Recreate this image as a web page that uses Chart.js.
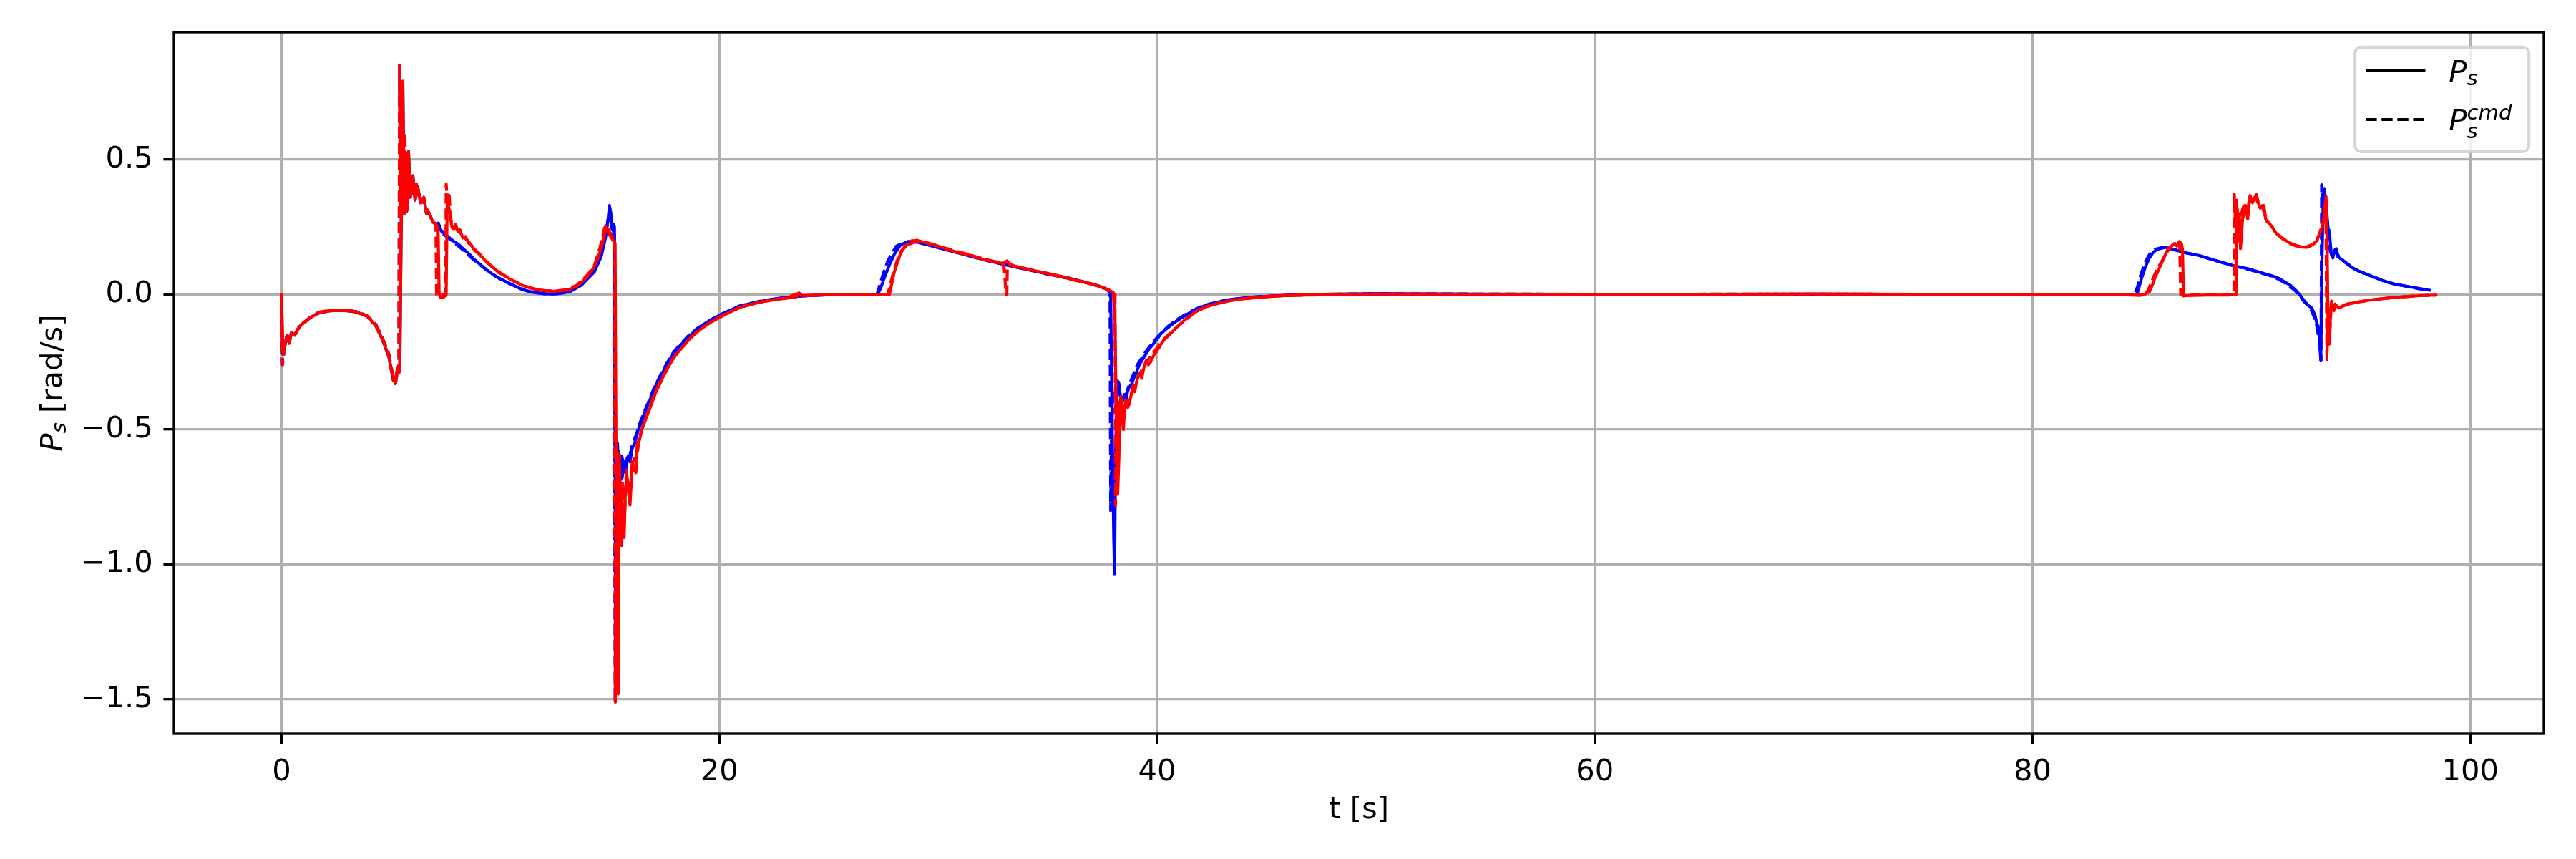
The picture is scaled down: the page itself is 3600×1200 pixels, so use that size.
<!DOCTYPE html>
<html>
<head>
<meta charset="utf-8">
<script src="https://cdn.jsdelivr.net/npm/chart.js@4.4.1/dist/chart.umd.min.js"></script>
<style>
html,body{margin:0;padding:0;background:#fff;}
canvas{display:block;}
</style>
</head>
<body>
<canvas id="c" width="3600" height="1200"></canvas>
<script>
// ---------------- DATA ([t, value] pairs) ----------------
const xTicks = [0, 20, 40, 60, 80, 100];
const xTickLabels = ['0', '20', '40', '60', '80', '100'];
const yTicks = [-1.5, -1.0, -0.5, 0.0, 0.5];
const yTickLabels = ['\u22121.5', '\u22121.0', '\u22120.5', '0.0', '0.5'];
const legendLabels = ['P_s', 'P_s^cmd'];

const blueMeasured = [[0,0],[0.05,-0.22],[0.15,-0.19],[0.25,-0.15],[0.35,-0.18],[0.45,-0.14],[0.6,-0.15],[0.8,-0.12],[1.0,-0.105],[1.3,-0.085],[1.7,-0.068],[2.2,-0.06],[2.8,-0.058],[3.4,-0.064],[3.9,-0.08],[4.3,-0.115],[4.6,-0.165],[4.9,-0.23],[5.1,-0.315],[5.2,-0.32],[5.3,-0.27],[5.4,-0.28],[5.47,0.28],[5.54,0.79],[5.6,0.3],[5.66,0.52],[5.72,0.31],[5.8,0.53],[5.88,0.36],[6.0,0.44],[6.1,0.35],[6.22,0.4],[6.35,0.34],[6.5,0.36],[6.62,0.3],[6.75,0.3],[6.9,0.27],[7.05,0.26],[7.16,0.265],[7.3,0.235],[7.45,0.225],[7.6,0.215],[7.85,0.198],[8.1,0.185],[8.3,0.17],[8.6,0.148],[8.85,0.127],[9.1,0.11],[9.4,0.09],[9.7,0.072],[10.0,0.058],[10.5,0.038],[11.0,0.018],[11.5,0.008],[12.0,0.003],[12.4,0.002],[12.8,0.005],[13.2,0.012],[13.7,0.035],[14.0,0.06],[14.3,0.085],[14.6,0.14],[14.8,0.21],[14.92,0.28],[14.98,0.33],[15.05,0.3],[15.1,0.24],[15.17,0.26],[15.21,0.25],[15.26,-1.2],[15.3,-1.42],[15.35,-0.55],[15.42,-0.72],[15.48,-0.6],[15.56,-0.68],[15.64,-0.62],[15.72,-0.66],[15.82,-0.6],[15.92,-0.62],[16.02,-0.57],[16.14,-0.55],[16.3,-0.5],[16.46,-0.47],[16.62,-0.43],[16.79,-0.4],[16.95,-0.365],[17.11,-0.335],[17.4,-0.29],[17.66,-0.25],[17.9,-0.22],[18.2,-0.19],[18.5,-0.165],[18.75,-0.145],[19.0,-0.127],[19.29,-0.11],[19.6,-0.094],[20.0,-0.077],[20.5,-0.058],[20.92,-0.043],[21.5,-0.032],[22.01,-0.023],[22.8,-0.013],[23.64,-0.006],[24.5,-0.002],[25.28,0],[27.24,0],[27.4,0.03],[27.6,0.075],[27.8,0.115],[28.0,0.15],[28.28,0.184],[28.64,0.197],[29.0,0.195],[29.5,0.185],[30.0,0.174],[30.75,0.158],[31.5,0.142],[32.2,0.127],[32.95,0.113],[33.5,0.102],[34.3,0.089],[35.14,0.074],[36.0,0.06],[36.7,0.046],[37.33,0.032],[37.7,0.02],[37.88,0.005],[37.95,-0.5],[38.02,-0.9],[38.06,-1.035],[38.1,-0.6],[38.18,-0.33],[38.25,-0.325],[38.33,-0.38],[38.41,-0.396],[38.5,-0.37],[38.57,-0.4],[38.65,-0.36],[38.73,-0.343],[38.85,-0.33],[38.95,-0.307],[39.05,-0.29],[39.17,-0.263],[39.3,-0.245],[39.5,-0.219],[39.65,-0.2],[39.82,-0.184],[40.0,-0.165],[40.15,-0.148],[40.35,-0.132],[40.58,-0.117],[40.85,-0.1],[41.12,-0.086],[41.4,-0.072],[41.67,-0.06],[42.0,-0.047],[42.4,-0.035],[43.0,-0.024],[43.5,-0.017],[44.6,-0.009],[45.5,-0.004],[46.8,0],[48,0.002],[50,0.003],[55,0.002],[60,0.001],[65,0.001],[70,0.002],[75,0.001],[80,0],[84.77,0],[85.0,0.065],[85.17,0.105],[85.34,0.136],[85.5,0.155],[85.67,0.167],[86.07,0.175],[86.46,0.167],[86.8,0.16],[87.03,0.154],[87.3,0.15],[87.59,0.145],[88.15,0.131],[88.71,0.118],[89.27,0.105],[89.83,0.096],[90.4,0.082],[90.96,0.069],[91.25,0.06],[91.52,0.047],[91.8,0.033],[92.08,0.012],[92.25,-0.005],[92.42,-0.024],[92.6,-0.04],[92.76,-0.05],[92.9,-0.075],[92.98,-0.104],[93.05,-0.12],[93.1,-0.148],[93.17,-0.245],[93.22,0.1],[93.28,0.35],[93.32,0.393],[93.38,0.36],[93.43,0.32],[93.5,0.25],[93.56,0.234],[93.65,0.15],[93.72,0.136],[93.8,0.165],[93.88,0.17],[93.95,0.14],[94.11,0.131],[94.33,0.118],[94.6,0.1],[94.9,0.087],[95.2,0.078],[95.46,0.069],[95.75,0.06],[96.02,0.051],[96.3,0.044],[96.59,0.038],[97.15,0.03],[97.71,0.022],[98.16,0.016]];

const blueCommand = [[0,0],[0.04,-0.26],[0.12,-0.2],[0.22,-0.16],[0.32,-0.17],[0.42,-0.145],[0.6,-0.15],[0.8,-0.12],[1.0,-0.105],[1.3,-0.085],[1.7,-0.066],[2.2,-0.058],[2.8,-0.057],[3.4,-0.063],[3.9,-0.078],[4.3,-0.11],[4.6,-0.16],[4.9,-0.22],[5.08,-0.3],[5.2,-0.33],[5.3,-0.28],[5.36,-0.29],[5.39,0.85],[5.43,0.3],[5.5,0.75],[5.56,0.35],[5.63,0.6],[5.7,0.3],[5.78,0.48],[5.86,0.38],[5.95,0.43],[6.05,0.37],[6.15,0.41],[6.3,0.36],[6.45,0.35],[6.6,0.32],[6.75,0.3],[6.9,0.27],[7.05,0.26],[7.2,0.24],[7.45,0.22],[7.7,0.205],[8.0,0.185],[8.3,0.165],[8.6,0.142],[8.9,0.12],[9.2,0.102],[9.5,0.083],[9.8,0.067],[10.2,0.048],[10.7,0.03],[11.2,0.014],[11.7,0.006],[12.2,0.002],[12.7,0.004],[13.2,0.013],[13.7,0.038],[14.0,0.065],[14.3,0.095],[14.6,0.155],[14.8,0.22],[14.9,0.27],[14.97,0.3],[15.05,0.27],[15.12,0.25],[15.2,0.22],[15.24,-1.51],[15.28,-0.6],[15.33,-0.8],[15.4,-0.58],[15.47,-0.7],[15.55,-0.6],[15.65,-0.64],[15.78,-0.6],[15.9,-0.6],[16.05,-0.55],[16.2,-0.52],[16.4,-0.47],[16.6,-0.43],[16.8,-0.39],[17.0,-0.35],[17.3,-0.3],[17.6,-0.255],[17.9,-0.215],[18.2,-0.185],[18.6,-0.152],[19.0,-0.125],[19.5,-0.1],[20.0,-0.076],[20.9,-0.043],[22.0,-0.022],[23.6,-0.006],[25.3,0],[27.2,0],[27.35,0.04],[27.5,0.08],[27.7,0.125],[27.9,0.155],[28.1,0.18],[28.5,0.195],[29.0,0.194],[29.5,0.185],[30.0,0.175],[31.0,0.153],[32.0,0.131],[33.0,0.112],[34.0,0.094],[35.0,0.076],[36.0,0.06],[36.7,0.046],[37.33,0.032],[37.7,0.02],[37.85,0.008],[37.88,-0.8],[37.92,-0.5],[38.0,-0.38],[38.1,-0.34],[38.2,-0.32],[38.3,-0.37],[38.4,-0.39],[38.55,-0.38],[38.7,-0.34],[38.9,-0.3],[39.1,-0.26],[39.3,-0.235],[39.5,-0.21],[39.8,-0.178],[40.1,-0.15],[40.5,-0.118],[41.0,-0.088],[41.5,-0.064],[42.0,-0.045],[42.5,-0.033],[43.2,-0.02],[44.5,-0.008],[46.8,0],[50,0.003],[60,0.001],[70,0.002],[80,0],[84.65,0],[84.8,0.03],[84.95,0.075],[85.15,0.12],[85.35,0.15],[85.6,0.168],[86.0,0.176],[86.4,0.168],[87.0,0.155],[87.6,0.145],[88.2,0.13],[88.7,0.118],[89.3,0.104],[89.8,0.095],[90.4,0.081],[91.0,0.067],[91.5,0.045],[92.0,0.015],[92.4,-0.025],[92.7,-0.05],[92.95,-0.1],[93.1,-0.17],[93.18,-0.245],[93.21,0.407],[93.26,0.33],[93.32,0.38],[93.4,0.3],[93.5,0.22],[93.6,0.16],[93.72,0.14],[93.85,0.165],[94.0,0.14],[94.3,0.118],[94.9,0.087],[95.5,0.068],[96.0,0.052],[96.6,0.038],[97.2,0.029],[97.7,0.021],[98.16,0.016]];

const redMeasured = [[0,0],[0.05,-0.21],[0.15,-0.19],[0.25,-0.15],[0.35,-0.18],[0.45,-0.14],[0.6,-0.15],[0.8,-0.12],[1.0,-0.105],[1.3,-0.085],[1.7,-0.068],[2.2,-0.06],[2.8,-0.058],[3.4,-0.064],[3.9,-0.08],[4.3,-0.115],[4.6,-0.165],[4.9,-0.23],[5.1,-0.318],[5.2,-0.32],[5.3,-0.27],[5.4,-0.28],[5.47,0.28],[5.54,0.79],[5.6,0.3],[5.66,0.52],[5.72,0.31],[5.8,0.53],[5.88,0.36],[6.0,0.44],[6.1,0.35],[6.22,0.4],[6.35,0.34],[6.5,0.36],[6.62,0.3],[6.75,0.3],[6.9,0.27],[7.05,0.26],[7.15,0.25],[7.2,0],[7.25,-0.01],[7.4,-0.01],[7.52,0],[7.57,0.357],[7.62,0.33],[7.7,0.3],[7.78,0.25],[7.85,0.242],[7.95,0.26],[8.05,0.235],[8.15,0.24],[8.28,0.21],[8.4,0.215],[8.55,0.19],[8.7,0.18],[8.83,0.162],[9.0,0.155],[9.37,0.12],[9.6,0.105],[9.92,0.082],[10.2,0.07],[10.46,0.056],[11.0,0.034],[11.55,0.02],[12.0,0.014],[12.37,0.012],[12.8,0.014],[13.19,0.02],[13.5,0.032],[13.73,0.047],[14.0,0.07],[14.27,0.1],[14.45,0.135],[14.6,0.171],[14.72,0.21],[14.82,0.246],[14.9,0.235],[15.0,0.22],[15.15,0.2],[15.24,0.19],[15.3,-0.9],[15.38,-1.48],[15.43,-0.59],[15.49,-0.8],[15.54,-0.93],[15.6,-0.8],[15.65,-0.9],[15.7,-0.75],[15.76,-0.67],[15.84,-0.72],[15.92,-0.78],[16.03,-0.62],[16.12,-0.65],[16.19,-0.66],[16.25,-0.55],[16.35,-0.54],[16.46,-0.5],[16.6,-0.47],[16.79,-0.43],[16.95,-0.395],[17.11,-0.36],[17.4,-0.31],[17.66,-0.27],[17.9,-0.235],[18.2,-0.205],[18.5,-0.178],[18.75,-0.155],[19.0,-0.137],[19.29,-0.12],[19.6,-0.103],[20.0,-0.085],[20.5,-0.064],[20.92,-0.048],[21.5,-0.035],[22.01,-0.026],[22.8,-0.016],[23.5,-0.01],[23.64,0.006],[23.8,-0.004],[24.5,-0.002],[25.3,0],[27.77,0],[27.85,0.03],[27.99,0.082],[28.1,0.11],[28.28,0.153],[28.4,0.168],[28.57,0.184],[28.8,0.19],[29.0,0.202],[29.3,0.195],[29.6,0.19],[30.0,0.18],[30.4,0.168],[30.75,0.16],[31.1,0.152],[31.5,0.145],[32.0,0.132],[32.5,0.123],[32.95,0.115],[33.15,0.125],[33.3,0.112],[33.5,0.105],[34.0,0.096],[34.5,0.087],[35.14,0.076],[35.8,0.064],[36.5,0.05],[37.0,0.04],[37.33,0.031],[37.6,0.024],[37.84,0.015],[38.0,0.008],[38.08,-0.1],[38.14,-0.5],[38.2,-0.74],[38.26,-0.6],[38.3,-0.4],[38.35,-0.378],[38.4,-0.45],[38.46,-0.5],[38.52,-0.42],[38.57,-0.39],[38.65,-0.42],[38.73,-0.405],[38.82,-0.37],[38.9,-0.35],[38.98,-0.36],[39.06,-0.325],[39.14,-0.3],[39.22,-0.29],[39.3,-0.31],[39.4,-0.27],[39.5,-0.245],[39.6,-0.26],[39.7,-0.25],[39.85,-0.225],[39.98,-0.21],[40.1,-0.195],[40.25,-0.175],[40.4,-0.162],[40.58,-0.148],[40.85,-0.125],[41.12,-0.104],[41.4,-0.085],[41.67,-0.068],[41.95,-0.056],[42.21,-0.046],[42.76,-0.033],[43.4,-0.022],[44.0,-0.015],[45.0,-0.007],[46.0,-0.003],[48.0,0.001],[50,0.002],[55,0.001],[60,0],[65,0.001],[70,0.002],[75,0.001],[80,0],[84,0],[84.9,-0.003],[85.1,0],[85.34,0.01],[85.5,0.04],[85.6,0.064],[85.75,0.09],[85.9,0.117],[86.05,0.145],[86.2,0.171],[86.35,0.18],[86.5,0.19],[86.6,0.18],[86.7,0.196],[86.8,0.19],[86.85,0.17],[86.9,-0.005],[87.0,-0.004],[88.0,-0.002],[89.0,-0.002],[89.3,0],[89.33,0.35],[89.38,0.2],[89.45,0.3],[89.5,0.17],[89.6,0.28],[89.72,0.33],[89.83,0.28],[89.94,0.367],[90.05,0.34],[90.15,0.36],[90.23,0.37],[90.32,0.34],[90.4,0.32],[90.5,0.33],[90.57,0.33],[90.65,0.28],[90.73,0.269],[90.85,0.26],[90.96,0.25],[91.1,0.23],[91.3,0.215],[91.45,0.205],[91.63,0.198],[91.85,0.185],[92.08,0.18],[92.3,0.176],[92.53,0.175],[92.7,0.18],[92.87,0.19],[93.0,0.2],[93.1,0.225],[93.2,0.24],[93.27,0.26],[93.34,0.3],[93.41,0.363],[93.46,0.2],[93.5,-0.1],[93.55,-0.184],[93.6,-0.1],[93.66,-0.024],[93.72,-0.05],[93.77,-0.06],[93.83,-0.035],[93.88,-0.04],[94.0,-0.05],[94.11,-0.045],[94.33,-0.036],[94.6,-0.032],[94.9,-0.027],[95.46,-0.02],[96.02,-0.015],[96.59,-0.01],[97.15,-0.007],[97.71,-0.004],[98.44,-0.002]];

const redCommand = [[0,0],[0.04,-0.26],[0.12,-0.2],[0.22,-0.16],[0.32,-0.17],[0.42,-0.145],[0.6,-0.15],[0.8,-0.12],[1.0,-0.105],[1.3,-0.085],[1.7,-0.066],[2.2,-0.058],[2.8,-0.057],[3.4,-0.063],[3.9,-0.078],[4.3,-0.11],[4.6,-0.16],[4.9,-0.22],[5.08,-0.3],[5.2,-0.33],[5.3,-0.28],[5.36,-0.29],[5.39,0.85],[5.43,0.3],[5.5,0.75],[5.56,0.35],[5.63,0.6],[5.7,0.3],[5.78,0.48],[5.86,0.38],[5.95,0.43],[6.05,0.37],[6.15,0.41],[6.3,0.36],[6.45,0.35],[6.6,0.32],[6.75,0.3],[6.9,0.27],[7.05,0.26],[7.08,0],[7.5,0],[7.52,0.41],[7.58,0.35],[7.65,0.38],[7.72,0.28],[7.8,0.26],[7.9,0.25],[8.0,0.24],[8.15,0.23],[8.3,0.215],[8.5,0.2],[8.8,0.17],[9.2,0.135],[9.6,0.105],[10.0,0.08],[10.5,0.055],[11.0,0.035],[11.5,0.022],[12.0,0.015],[12.5,0.013],[13.0,0.018],[13.5,0.035],[14.0,0.075],[14.3,0.11],[14.55,0.175],[14.75,0.245],[14.85,0.26],[14.95,0.235],[15.1,0.22],[15.2,0.2],[15.25,-1.51],[15.3,-0.7],[15.36,-1.4],[15.42,-0.65],[15.5,-0.85],[15.58,-0.7],[15.66,-0.85],[15.75,-0.65],[15.85,-0.72],[15.95,-0.7],[16.05,-0.6],[16.2,-0.62],[16.35,-0.53],[16.5,-0.49],[16.8,-0.42],[17.1,-0.355],[17.4,-0.305],[17.7,-0.262],[18.0,-0.225],[18.4,-0.186],[18.8,-0.152],[19.3,-0.118],[19.8,-0.092],[20.3,-0.07],[21.0,-0.046],[22.0,-0.026],[23.0,-0.013],[23.6,0.004],[23.8,-0.004],[25.0,0],[27.7,0],[27.8,0.035],[27.95,0.08],[28.1,0.12],[28.3,0.16],[28.55,0.185],[28.8,0.2],[29.1,0.198],[29.6,0.188],[30.2,0.175],[31.0,0.157],[32.0,0.134],[33.0,0.114],[33.1,0],[33.14,0],[33.16,0.11],[33.5,0.105],[34.3,0.09],[35.1,0.076],[36.0,0.058],[36.8,0.043],[37.5,0.027],[37.9,0.013],[38.08,0],[38.1,-0.78],[38.14,-0.5],[38.2,-0.45],[38.3,-0.4],[38.4,-0.47],[38.5,-0.42],[38.6,-0.4],[38.75,-0.39],[38.9,-0.34],[39.1,-0.31],[39.3,-0.28],[39.5,-0.25],[39.8,-0.22],[40.1,-0.185],[40.4,-0.158],[40.8,-0.128],[41.2,-0.1],[41.7,-0.068],[42.2,-0.046],[42.8,-0.032],[43.5,-0.02],[44.5,-0.011],[46,-0.003],[50,0.002],[60,0],[70,0.002],[80,0],[85.15,0],[85.3,0.02],[85.5,0.06],[85.7,0.095],[85.95,0.13],[86.2,0.165],[86.45,0.188],[86.72,0.196],[86.77,0],[87.0,0],[89.2,0],[89.22,0.372],[89.28,0.25],[89.35,0.32],[89.45,0.2],[89.55,0.3],[89.68,0.34],[89.8,0.3],[89.92,0.36],[90.05,0.345],[90.2,0.36],[90.35,0.33],[90.5,0.325],[90.7,0.275],[90.9,0.255],[91.2,0.222],[91.5,0.205],[91.8,0.19],[92.1,0.18],[92.5,0.176],[92.85,0.188],[93.1,0.22],[93.3,0.28],[93.4,0.35],[93.45,-0.241],[93.5,-0.1],[93.58,-0.15],[93.65,-0.03],[93.75,-0.055],[93.9,-0.038],[94.1,-0.045],[94.4,-0.035],[94.9,-0.027],[95.5,-0.02],[96.0,-0.015],[96.6,-0.01],[97.7,-0.004],[98.44,-0.002]];

// ---------------- STYLE ----------------
const PT = 300 / 72;
const FONT = "'DejaVu Sans', 'Liberation Sans', sans-serif";
const FS = 10 * PT;
const LW = 1.0 * PT;
const DASH = [3.7 * LW, 1.6 * LW];

function toXY(pairs) { return pairs.map(p => ({x: p[0], y: p[1]})); }

function lineDs(pairs, color, dashed) {
  return {
    data: toXY(pairs),
    borderColor: color,
    backgroundColor: color,
    borderWidth: LW,
    borderDash: dashed ? DASH : [],
    borderCapStyle: dashed ? 'butt' : 'round',
    borderJoinStyle: 'round',
    pointRadius: 0,
    pointHoverRadius: 0,
    tension: 0,
    fill: false
  };
}

// index 0 is drawn on top in Chart.js
const datasets = [
  lineDs(redCommand, '#ff0000', true),
  lineDs(redMeasured, '#ff0000', false),
  lineDs(blueCommand, '#0000ff', true),
  lineDs(blueMeasured, '#0000ff', false)
];

function drawMath(ctx, x, y, base, sub, sup, size, subShift, supShift) {
  ctx.font = 'italic ' + size + 'px ' + FONT;
  ctx.fillText(base, x, y);
  const w = ctx.measureText(base).width;
  const small = size * 0.7;
  ctx.font = 'italic ' + small + 'px ' + FONT;
  let wsub = 0, wsup = 0;
  if (sub) { ctx.fillText(sub, x + w, y + subShift); wsub = ctx.measureText(sub).width; }
  if (sup) { ctx.fillText(sup, x + w, y - supShift); wsup = ctx.measureText(sup).width; }
  return w + Math.max(wsub, wsup);
}

const decor = {
  id: 'decor',
  afterDraw(chart) {
    const ctx = chart.ctx;
    const a = chart.chartArea;
    ctx.save();
    // spines
    ctx.strokeStyle = '#000';
    ctx.lineWidth = 0.8 * PT;
    ctx.strokeRect(a.left, a.top, a.right - a.left, a.bottom - a.top);

    // x label
    ctx.fillStyle = '#000';
    ctx.textBaseline = 'alphabetic';
    ctx.textAlign = 'center';
    ctx.font = FS + 'px ' + FONT;
    ctx.fillText('t [s]', (a.left + a.right) / 2, 1143);

    // y label (rotated, math P_s)
    ctx.save();
    ctx.translate(86, (a.top + a.bottom) / 2);
    ctx.rotate(-Math.PI / 2);
    ctx.textAlign = 'left';
    ctx.font = 'italic ' + FS + 'px ' + FONT;
    const wP = ctx.measureText('P').width;
    ctx.font = 'italic ' + (FS * 0.7) + 'px ' + FONT;
    const wS = ctx.measureText('s').width;
    ctx.font = FS + 'px ' + FONT;
    const wR = ctx.measureText(' [rad/s]').width;
    const x0 = -(wP + wS + wR) / 2;
    drawMath(ctx, x0, 0, 'P', 's', null, FS, 6, 0);
    ctx.font = FS + 'px ' + FONT;
    ctx.fillText(' [rad/s]', x0 + wP + wS, 0);
    ctx.restore();

    // legend
    const lx = a.right - 0.5 * FS, ly = a.top + 0.5 * FS;
    const bw = 243, bh = 146;
    const bx = lx - bw, by = ly;
    ctx.beginPath();
    ctx.roundRect(bx, by, bw, bh, 0.2 * FS);
    ctx.fillStyle = 'rgba(255,255,255,0.8)';
    ctx.fill();
    ctx.strokeStyle = 'rgba(204,204,204,0.8)';
    ctx.lineWidth = 1.0 * PT;
    ctx.stroke();

    const hx0 = bx + 15, hx1 = hx0 + 2.0 * FS;
    ctx.strokeStyle = '#000';
    ctx.lineWidth = LW;
    ctx.lineCap = 'butt';
    ctx.beginPath(); ctx.moveTo(hx0, 99); ctx.lineTo(hx1, 99); ctx.stroke();
    ctx.setLineDash(DASH);
    ctx.beginPath(); ctx.moveTo(hx0, 167); ctx.lineTo(hx1, 167); ctx.stroke();
    ctx.setLineDash([]);

    ctx.fillStyle = '#000';
    ctx.textAlign = 'left';
    const tx = hx1 + 0.8 * FS - 0.5;
    const p1 = legendLabels[0].split('_');
    drawMath(ctx, tx, 114, p1[0], p1[1], null, FS, 5, 0);
    const p2 = legendLabels[1].split('_');
    const subsup = p2[1].split('^');
    drawMath(ctx, tx, 182, p2[0], subsup[0], subsup[1], FS, 11, 15);
    ctx.restore();
  }
};

const tickFont = {family: FONT, size: FS};

new Chart(document.getElementById('c'), {
  type: 'line',
  data: {datasets},
  options: {
    responsive: false,
    devicePixelRatio: 1,
    animation: false,
    events: [],
    layout: {padding: {top: 45, right: 45, bottom: 0, left: 0}},
    plugins: {legend: {display: false}, tooltip: {enabled: false}, title: {display: false}},
    scales: {
      x: {
        type: 'linear',
        min: -4.92, max: 103.36,
        afterBuildTicks: s => { s.ticks = xTicks.map(v => ({value: v})); },
        afterFit: s => { s.height = 175; },
        ticks: {
          font: tickFont, color: '#000', padding: 0.35 * FS, autoSkip: false, maxRotation: 0,
          callback: (v) => { const i = xTicks.indexOf(v); return i >= 0 ? xTickLabels[i] : ''; }
        },
        grid: {color: '#b0b0b0', lineWidth: 0.8 * PT, drawTicks: true, tickLength: 3.5 * PT, tickColor: '#000', tickWidth: 0.8 * PT},
        border: {display: false}
      },
      y: {
        type: 'linear',
        min: -1.627, max: 0.972,
        afterBuildTicks: s => { s.ticks = yTicks.map(v => ({value: v})); },
        afterFit: s => { s.width = 243; },
        ticks: {
          font: tickFont, color: '#000', padding: 0.35 * FS, autoSkip: false,
          callback: (v) => { const i = yTicks.findIndex(t => Math.abs(t - v) < 1e-9); return i >= 0 ? yTickLabels[i] : ''; }
        },
        grid: {color: '#b0b0b0', lineWidth: 0.8 * PT, drawTicks: true, tickLength: 3.5 * PT, tickColor: '#000', tickWidth: 0.8 * PT},
        border: {display: false}
      }
    }
  },
  plugins: [decor]
});
</script>
</body>
</html>
